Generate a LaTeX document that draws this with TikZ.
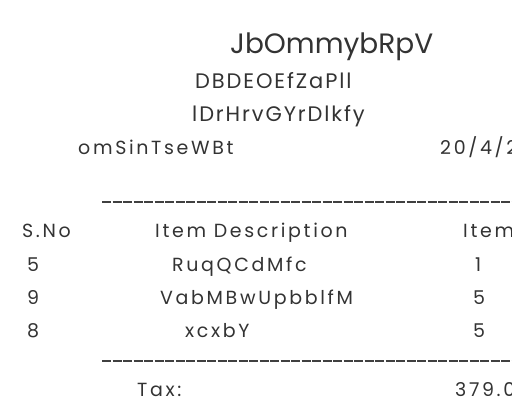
\documentclass[tikz,border=0pt]{standalone}
\usepackage{fontspec}
\setmainfont{Poppins}
\usepackage{tikz}
\tikzstyle{big} = [anchor=base west, inner sep=0pt, text=black!80, font=\fontsize{28}{30}\selectfont]
\tikzstyle{mid} = [anchor=base west, inner sep=0pt, text=black!80, font=\fontsize{21}{23}\selectfont\addfontfeatures{LetterSpace=9}]
\tikzstyle{txt} = [anchor=base west, inner sep=0pt, text=black!80, font=\fontsize{19}{21}\selectfont\addfontfeatures{LetterSpace=14}]
\tikzstyle{rule} = [black!75, line width=1.3pt, dash pattern=on 9pt off 1.5pt]
\usetikzlibrary{positioning}

\begin{document}
\begin{tikzpicture}[x=1pt, y=-1pt]
      \useasboundingbox (0,0) rectangle (512,400);
      \clip (0,0) rectangle (512,400);
      \node[big] (title) at (230,53) {JbOmmybRpV};
      \node[mid] (shop) at (195,88) {DBDEOEfZaPll};
      \node[mid] (addr) at (192,121) {lDrHrvGYrDlkfy};
      \node[txt] (cashier) at (78,154) {omSinTseWBt};
      \node[txt] (date) at (440,154) {20/4/2023};

      \coordinate (top1) at (102,202);
      \coordinate (top2) at (530,202);
      \draw[rule] (top1) -- (top2);

      \node[txt] (sno) at (22,237) {S.No};
      \node[txt] (desc) at (155,237) {Item Description};
      \node[txt] (qty) at (463,237) {Item Qty};

      \node[txt] (n1) at (27,271) {5};
      \node[txt] (d1) at (172,271) {RuqQCdMfc};
      \node[txt] (q1) at (475,271) {1};
      \node[txt] (n2) at (27,304) {9};
      \node[txt] (d2) at (160,304) {VabMBwUpbblfM};
      \node[txt] (q2) at (473,304) {5};
      \node[txt] (n3) at (27,337) {8};
      \node[txt] (d3) at (185,337) {xcxbY};
      \node[txt] (q3) at (473,337) {5};

      \coordinate (bot1) at (102,361);
      \coordinate (bot2) at (530,361);
      \draw[rule] (bot1) -- (bot2);

      \node[txt] (tax) at (137,396) {Tax:};
      \node[txt] (taxval) at (455,396) {379.00};
    \end{tikzpicture}
\end{document}
